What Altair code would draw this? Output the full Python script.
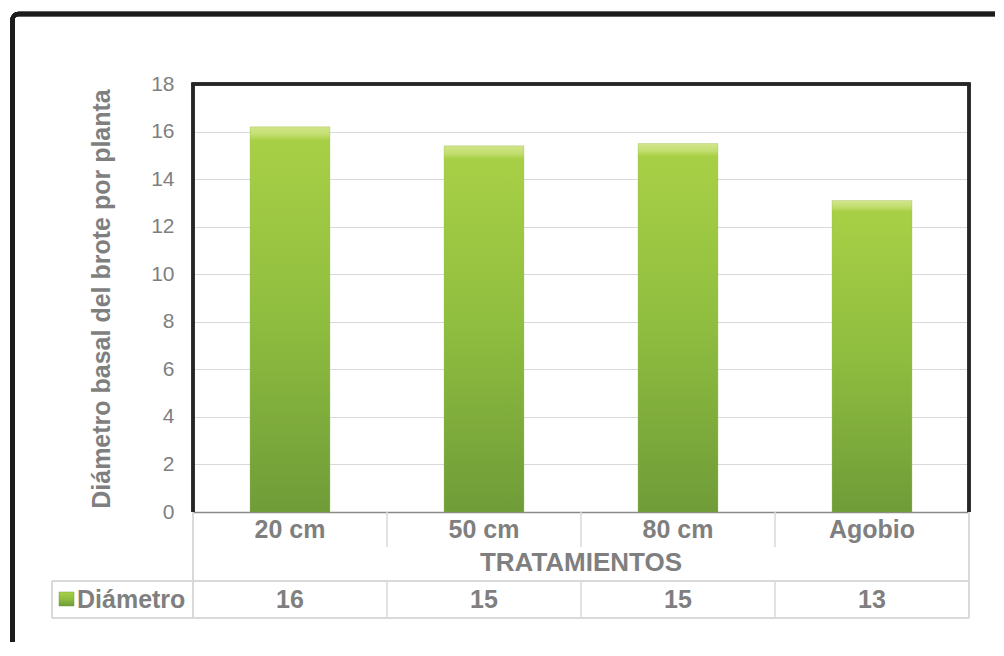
import altair as alt
import pandas as pd

categories = ["20 cm", "50 cm", "80 cm", "Agobio"]
diametro = [16.2, 15.4, 15.5, 13.1]
table_values = ["16", "15", "15", "13"]
y_ticks = [0, 2, 4, 6, 8, 10, 12, 14, 16, 18]
series_name = "Diámetro"
x_title = "TRATAMIENTOS"
y_title = "Diámetro basal del brote por planta"

df = pd.DataFrame({"cat": categories, "val": diametro, "lab": table_values})

W, H = 776, 428
GRAY = "#7f7f7f"
LINE = "#d9d9d9"
FONT = "Liberation Sans"

xscale = alt.Scale(domain=categories, paddingInner=0.588, paddingOuter=0.294)
yscale = alt.Scale(domain=[0, 18], nice=False, zero=True)

base = alt.Chart(df)

grad = alt.Gradient(
    gradient="linear", x1=0, x2=0, y1=0, y2=1,
    stops=[
        alt.GradientStop(color="#d2e58c", offset=0),
        alt.GradientStop(color="#c3de70", offset=0.02),
        alt.GradientStop(color="#a8d046", offset=0.035),
        alt.GradientStop(color="#8fbd3f", offset=0.5),
        alt.GradientStop(color="#6f9c38", offset=1),
    ],
)

bars = base.mark_bar(fill=grad, stroke="#8cb43e", strokeWidth=0.5, strokeOpacity=0.6).encode(
    x=alt.X("cat:N", scale=xscale, sort=categories,
            axis=alt.Axis(labels=False, ticks=False, title=None, domain=True,
                          domainColor="#8a8a8a", domainWidth=1.5, grid=False)),
    y=alt.Y("val:Q", scale=yscale,
            axis=alt.Axis(values=y_ticks, ticks=False, domain=False, labelFontSize=21,
                          labelColor=GRAY, labelFont=FONT, labelPadding=19, title=None,
                          grid=True, gridColor=LINE, gridWidth=1)),
)

# plot frame (left, top, right)
frame_l = base.mark_rule(color="#262626", strokeWidth=3).encode(
    x=alt.value(0), y=alt.value(0), y2=alt.value(H))
frame_t = base.mark_rule(color="#262626", strokeWidth=3).encode(
    x=alt.value(-1.5), x2=alt.value(W + 1.5), y=alt.value(0))
frame_r = base.mark_rule(color="#262626", strokeWidth=3).encode(
    x=alt.value(W), y=alt.value(0), y2=alt.value(H))

cat_text = base.mark_text(fontSize=25, fontWeight="bold", color=GRAY, font=FONT,
                          baseline="middle").encode(
    x=alt.X("cat:N", scale=xscale, sort=categories), y=alt.value(446), text="cat:N")
val_text = base.mark_text(fontSize=25, fontWeight="bold", color=GRAY, font=FONT,
                          baseline="middle").encode(
    x=alt.X("cat:N", scale=xscale, sort=categories), y=alt.value(516), text="lab:N")

title_df = pd.DataFrame({"t": [x_title]})
xtitle = alt.Chart(title_df).mark_text(fontSize=26, fontWeight="bold", color=GRAY,
                                       font=FONT, baseline="middle").encode(
    x=alt.value(W / 2), y=alt.value(479), text="t:N")

ytitle_df = pd.DataFrame({"t": [y_title]})
ytitle = alt.Chart(ytitle_df).mark_text(fontSize=25, fontWeight="bold", color=GRAY,
                                        font=FONT, baseline="middle", angle=270).encode(
    x=alt.value(-91), y=alt.value(H / 2 + 1), text="t:N")

legend_df = pd.DataFrame({"t": [series_name]})
legend_text = alt.Chart(legend_df).mark_text(fontSize=25, fontWeight="bold", color=GRAY,
                                             font=FONT, baseline="middle", align="left").encode(
    x=alt.value(-116), y=alt.value(516), text="t:N")
legend_icon = alt.Chart(legend_df).mark_rect(fill=grad, stroke="#6f9c38", strokeWidth=0.5).encode(
    x=alt.value(-134), x2=alt.value(-119), y=alt.value(508), y2=alt.value(522))

cell_edges = pd.DataFrame({"cat": categories[1:]})
step = W / 4.0
vlines_top = alt.Chart(cell_edges).mark_rule(color=LINE, strokeWidth=1.5, xOffset=-step / 2).encode(
    x=alt.X("cat:N", scale=xscale, sort=categories), y=alt.value(H), y2=alt.value(463))
vlines_bot = alt.Chart(cell_edges).mark_rule(color=LINE, strokeWidth=1.5, xOffset=-step / 2).encode(
    x=alt.X("cat:N", scale=xscale, sort=categories), y=alt.value(497), y2=alt.value(534))
v_left = base.mark_rule(color=LINE, strokeWidth=1.5).encode(
    x=alt.value(0), y=alt.value(H), y2=alt.value(534))
v_right = base.mark_rule(color=LINE, strokeWidth=1.5).encode(
    x=alt.value(W), y=alt.value(H), y2=alt.value(534))
v_leg = base.mark_rule(color=LINE, strokeWidth=1.5).encode(
    x=alt.value(-141), y=alt.value(497), y2=alt.value(534))
h_mid = base.mark_rule(color=LINE, strokeWidth=1.5).encode(
    x=alt.value(-141), x2=alt.value(W), y=alt.value(497))
h_bot = base.mark_rule(color=LINE, strokeWidth=1.5).encode(
    x=alt.value(-141), x2=alt.value(W), y=alt.value(534))

# outer chart frame (right and bottom edges run off the page)
outer = base.mark_rect(fill=None, fillOpacity=0, stroke="#1c1c1c", strokeWidth=4.5,
                       cornerRadius=6).encode(
    x=alt.value(-180.5), x2=alt.value(W + 80), y=alt.value(-70), y2=alt.value(H + 250))

chart = alt.layer(
    bars, frame_l, frame_t, frame_r,
    vlines_top, vlines_bot, v_left, v_right, v_leg, h_mid, h_bot,
    cat_text, val_text, xtitle, ytitle, legend_icon, legend_text, outer,
).properties(
    width=W, height=H,
    autosize=alt.AutoSizeParams(type="none"),
    padding={"left": 185, "top": 76, "right": 26, "bottom": 130},
    background="white",
).configure_view(stroke=None)

chart.save("out.html", embed_options={"renderer": "svg", "actions": False})
